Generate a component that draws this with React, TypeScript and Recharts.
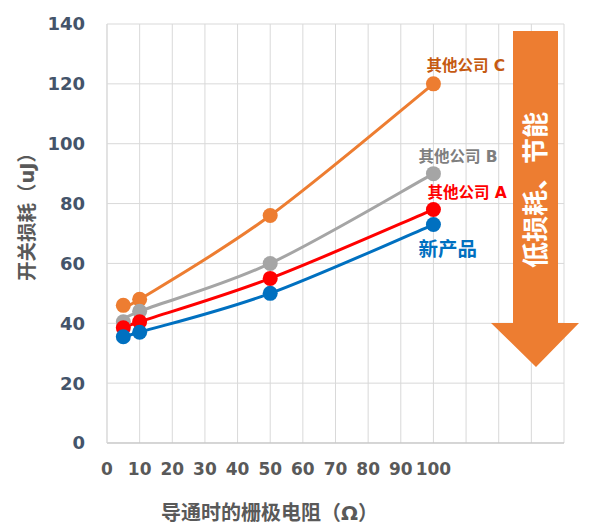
import React from "react";
import { LineChart, Line, XAxis, YAxis, CartesianGrid, LabelList } from "recharts";

// gate resistance (Ω) vs switching loss (uJ)
const resistance = [5, 10, 50, 100];
const newProduct = [35.5, 37, 50, 73];
const companyA = [38.5, 40.5, 55, 78];
const companyB = [40.5, 44, 60, 90];
const companyC = [46, 48, 76, 120];

const xTicks = [0, 10, 20, 30, 40, 50, 60, 70, 80, 90, 100];
const xGrid = [0, 10, 20, 30, 40, 50, 60, 70, 80, 90, 100, 110, 120, 130, 140];
const yTicks = [0, 20, 40, 60, 80, 100, 120, 140];

const data = resistance.map((r, i) => ({
  r,
  newProduct: newProduct[i],
  a: companyA[i],
  b: companyB[i],
  c: companyC[i],
}));

const FONT = "'DejaVu Sans', 'Noto Sans CJK SC', sans-serif";

// Excel-like smoothed line (catmull-rom through the points)
const smooth = (context: any) => {
  let pts: number[][] = [];
  return {
    areaStart() {},
    areaEnd() {},
    lineStart() {
      pts = [];
    },
    point(x: number, y: number) {
      pts.push([+x, +y]);
    },
    lineEnd() {
      if (!pts.length) return;
      context.moveTo(pts[0][0], pts[0][1]);
      for (let i = 0; i < pts.length - 1; i++) {
        const p0 = pts[i - 1] || pts[i];
        const p1 = pts[i];
        const p2 = pts[i + 1];
        const p3 = pts[i + 2] || p2;
        context.bezierCurveTo(
          p1[0] + (p2[0] - p0[0]) / 6,
          p1[1] + (p2[1] - p0[1]) / 6,
          p2[0] - (p3[0] - p1[0]) / 6,
          p2[1] - (p3[1] - p1[1]) / 6,
          p2[0],
          p2[1]
        );
      }
    },
  };
};

// label only at the last point of each series
const endLabel = (text: string, color: string, dx: number, dy: number, size = 15.5) => (props: any) => {
  const { x, y, index } = props;
  if (index !== data.length - 1) return null;
  return (
    <text
      x={x + dx}
      y={y + dy}
      fill={color}
      fontSize={size}
      fontWeight="bold"
      fontFamily={FONT}
      dominantBaseline="central"
    >
      {text}
    </text>
  );
};

const yLabel = () => (
  <text
    x={27}
    y={212}
    transform="rotate(-90 27 212)"
    fill="#595959"
    fontSize={19.5}
    fontWeight="bold"
    fontFamily={FONT}
    textAnchor="middle"
    dominantBaseline="central"
  >
    开关损耗（uJ）
  </text>
);

export default function App() {
  return (
    <div style={{ position: "absolute", left: 0, top: 0, width: 589, height: 528, background: "#fff" }}>
      <LineChart
        width={589}
        height={528}
        data={data}
        margin={{ top: 24, right: 25, left: 0, bottom: 0 }}
      >
        <CartesianGrid stroke="#d9d9d9" verticalValues={xGrid} />
        <XAxis
          dataKey="r"
          type="number"
          domain={[0, 140]}
          ticks={xTicks}
          interval={0}
          height={85}
          tickLine={false}
          axisLine={{ stroke: "#bfbfbf" }}
          tick={{ fill: "#595959", fontSize: 17, fontWeight: "bold", fontFamily: FONT }}
          tickMargin={14}
          label={{
            value: "导通时的栅极电阻（Ω）",
            position: "insideBottom",
            offset: 8,
            dx: -66,
            fill: "#595959",
            fontSize: 20,
            fontWeight: "bold",
            fontFamily: FONT,
          }}
        />
        <YAxis
          type="number"
          domain={[0, 140]}
          ticks={yTicks}
          width={107}
          tickLine={false}
          axisLine={{ stroke: "#d9d9d9" }}
          tick={{ fill: "#44546A", fontSize: 18, fontWeight: "bold", fontFamily: FONT }}
          tickMargin={16}
          label={{ content: yLabel }}
        />
        <Line
          type={smooth as any}
          dataKey="c"
          stroke="#ED7D31"
          strokeWidth={3}
          dot={{ r: 7.5, fill: "#ED7D31", stroke: "#ED7D31", strokeWidth: 0 }}
          isAnimationActive={false}
        >
          <LabelList dataKey="c" content={endLabel("其他公司 C", "#C55A11", -7, -18)} />
        </Line>
        <Line
          type={smooth as any}
          dataKey="b"
          stroke="#A5A5A5"
          strokeWidth={3}
          dot={{ r: 7.5, fill: "#A5A5A5", stroke: "#A5A5A5", strokeWidth: 0 }}
          isAnimationActive={false}
        >
          <LabelList dataKey="b" content={endLabel("其他公司 B", "#7F7F7F", -15, -17)} />
        </Line>
        <Line
          type={smooth as any}
          dataKey="a"
          stroke="#FF0000"
          strokeWidth={3}
          dot={{ r: 7.5, fill: "#FF0000", stroke: "#FF0000", strokeWidth: 0 }}
          isAnimationActive={false}
        >
          <LabelList dataKey="a" content={endLabel("其他公司 A", "#FF0000", -6, -17)} />
        </Line>
        <Line
          type={smooth as any}
          dataKey="newProduct"
          stroke="#0070C0"
          strokeWidth={3}
          dot={{ r: 7.5, fill: "#0070C0", stroke: "#0070C0", strokeWidth: 0 }}
          isAnimationActive={false}
        >
          <LabelList dataKey="newProduct" content={endLabel("新产品", "#0070C0", -15, 25, 19.5)} />
        </Line>
      </LineChart>
      {/* downward arrow annotation */}
      <svg width={589} height={528} style={{ position: "absolute", left: 0, top: 0, pointerEvents: "none" }}>
        <polygon points="513,31 558,31 558,323 579,323 536,367 491,323 513,323" fill="#ED7D31" />
        <text
          x={536}
          y={190}
          transform="rotate(-90 536 190)"
          fill="#fff"
          fontSize={26}
          fontWeight="bold"
          fontFamily={FONT}
          textAnchor="middle"
          dominantBaseline="central"
        >
          低损耗、节能
        </text>
      </svg>
    </div>
  );
}
